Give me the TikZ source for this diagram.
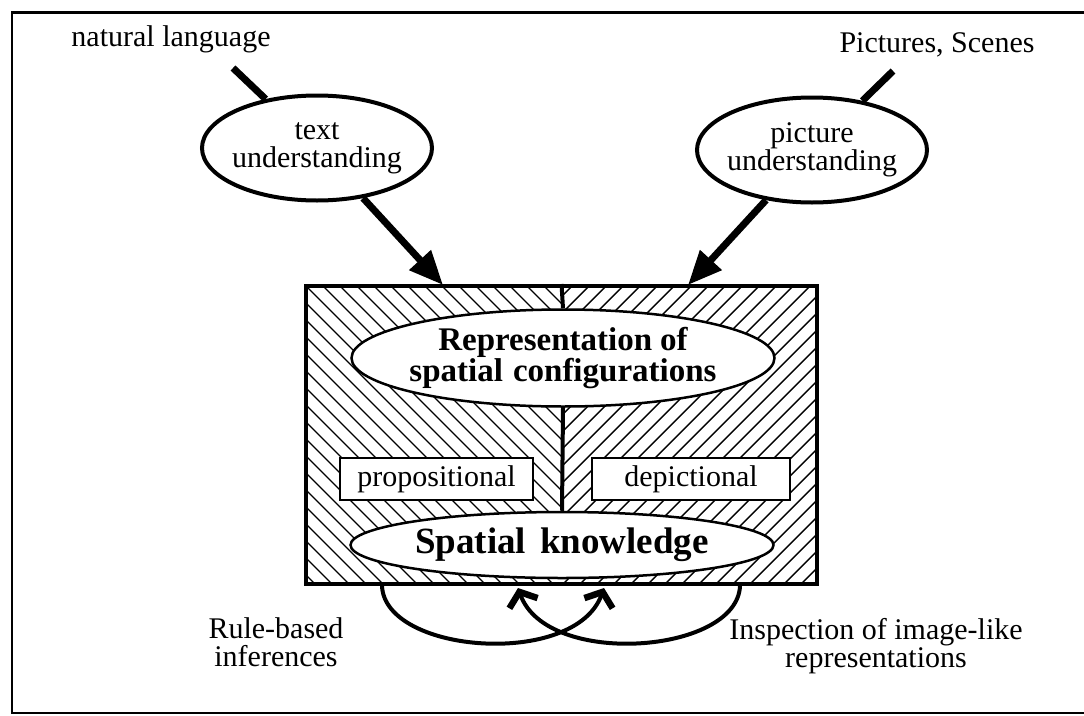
\documentclass[tikz,border=0pt]{standalone}
\usepackage{fontspec}
\setmainfont{Liberation Serif}
\usetikzlibrary{shapes.geometric,arrows.meta}
\tikzset{
  frameline/.style={line width=2.5pt},
  hatchline/.style={line width=1.4pt},
  outerbox/.style={draw, line width=4pt, inner sep=0pt, minimum width=511pt, minimum height=298pt},
  procell/.style={draw, ellipse, line width=4pt, fill=white, inner sep=0pt, minimum width=230pt, minimum height=105pt},
  repell/.style={draw, ellipse, line width=2.5pt, fill=white, inner sep=0pt},
  kindbox/.style={draw, line width=2.5pt, fill=white, inner sep=0pt, minimum height=42pt, font=\fontsize{30}{28}\selectfont},
  plain/.style={font=\fontsize{30}{28}\selectfont, align=center, inner sep=0pt},
  feedline/.style={line width=7pt},
  bigarrow/.style={line width=7pt, -{Triangle[length=34pt,width=28pt]}},
  divider/.style={line width=4pt},
  loopline/.style={line width=4pt, -{Straight Barb[length=12pt,width=30pt,line width=6.5pt]}}
}
\begin{document}
\begin{tikzpicture}[x=1pt,y=-1pt]
\useasboundingbox (0,0) rectangle (1084,715);
\fill[white] (0,0) rectangle (1084,715);
% outer frame (right side lies outside the picture)
\draw[frameline] (1084,12.5) -- (12,12.5) -- (12,713) -- (1084,713);

% hatching of the central box
\begin{scope}
  \clip (306,286) rectangle (561,584);
  \foreach \i in {0,17,...,570} \draw[hatchline] (\i,286) -- ++(310,310);
\end{scope}
\begin{scope}
  \clip (561,286) rectangle (817,584);
  \foreach \i in {240,257,...,840} \draw[hatchline] (\i,584) -- ++(310,-310);
\end{scope}
\node[outerbox] (box) at (561.5,435) {};

% ellipses inside the box
\node[repell, minimum width=423pt, minimum height=97pt,
  label={[plain, font=\fontsize{33}{27}\selectfont\bfseries]center:Representation\hspace{8pt}of\\spatial\hspace{10pt}configurations}] (rep) at (563,358) {};
\node[repell, minimum width=423pt, minimum height=66pt,
  label={[plain, font=\fontsize{37}{30}\selectfont\bfseries]center:Spatial\hspace{14pt}knowledge}] (sk) at (562,545) {};
\draw[divider] (box.north) -- (rep.north);
\draw[divider] (rep.south) -- (sk.north);

\node[kindbox, minimum width=193pt] (prop) at (436.5,479) {propositional};
\node[kindbox, minimum width=198pt] (dep) at (691,479) {depictional};

% input side
\node[plain] (nl) at (171,39) {natural language};
\node[plain] (ps) at (937,45) {Pictures, Scenes};
\node[procell, label={[plain]center:text\\understanding}] (tu) at (317,148) {};
\node[procell, label={[plain]center:picture\\understanding}] (pu) at (812,150) {};
\coordinate (nlend) at (233,68);
\coordinate (psend) at (893,71);
\coordinate (tipL) at (443,285);
\coordinate (tipR) at (688,285);
\draw[feedline] (nlend) -- (tu);
\draw[feedline] (psend) -- (pu);
\draw[bigarrow] (tu) -- (tipL);
\draw[bigarrow] (pu) -- (tipR);

% bottom loops
\coordinate (lstart) at (382,586);
\coordinate (rstart) at (740,586);
\coordinate (ltip) at (518,588);
\coordinate (rtip) at (604,588);
\draw[loopline] (lstart) .. controls (385,654) and (575,668) .. (rtip);
\draw[loopline] (rstart) .. controls (737,654) and (547,668) .. (ltip);

\node[plain] (rb) at (276,642) {Rule-based\\inferences};
\node[plain] (ins) at (876,646) {Inspection of image-like\\representations};
\end{tikzpicture}
\end{document}
